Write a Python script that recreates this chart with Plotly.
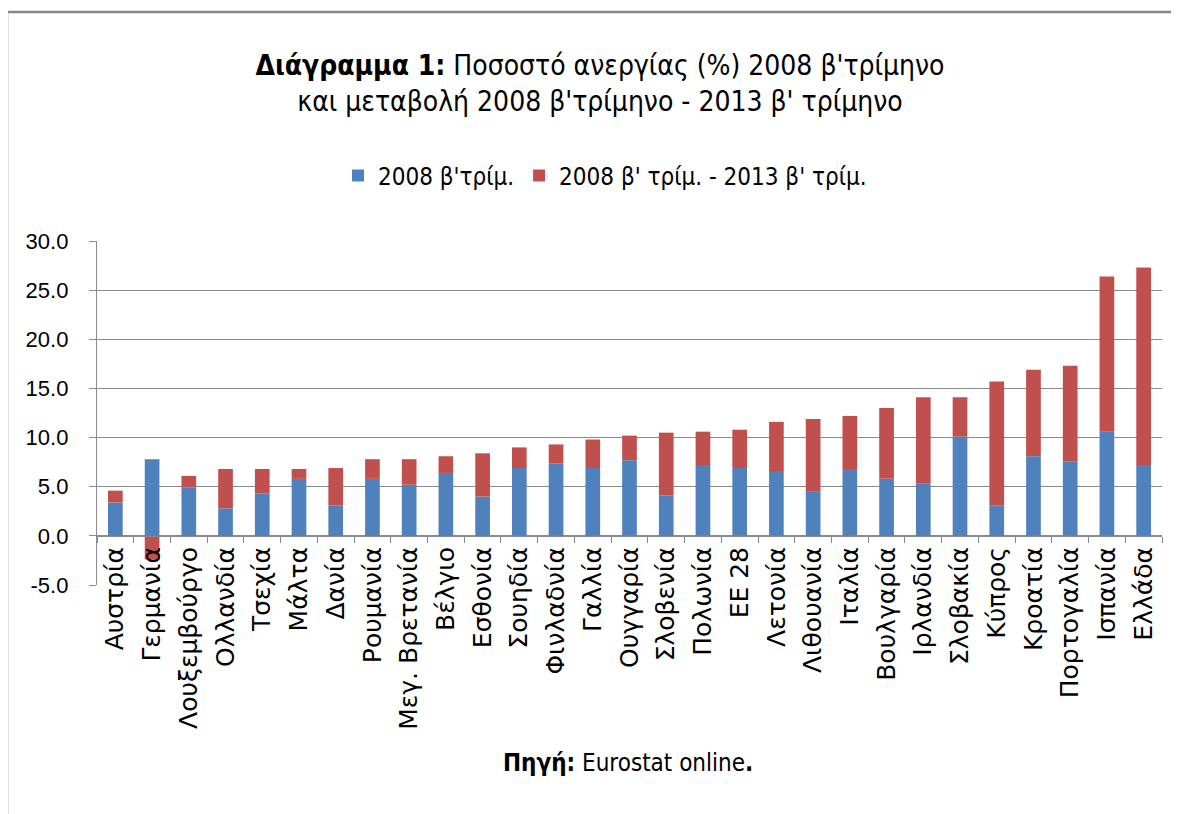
import plotly.graph_objects as go

countries = ["Αυστρία", "Γερμανία", "Λουξεμβούργο", "Ολλανδία", "Τσεχία", "Μάλτα",
             "Δανία", "Ρουμανία", "Μεγ. Βρετανία", "Βέλγιο", "Εσθονία", "Σουηδία",
             "Φινλαδνία", "Γαλλία", "Ουγγαρία", "Σλοβενία", "Πολωνία", "ΕΕ 28",
             "Λετονία", "Λιθουανία", "Ιταλία", "Βουλγαρία", "Ιρλανδία", "Σλοβακία",
             "Κύπρος", "Κροατία", "Πορτογαλία", "Ισπανία", "Ελλάδα"]

rate_2008q2 = [3.4, 7.8, 4.9, 2.8, 4.3, 5.8, 3.1, 5.8, 5.2, 6.4, 4.0, 6.9, 7.4, 6.9,
               7.7, 4.1, 7.2, 6.9, 6.6, 4.5, 6.8, 5.8, 5.3, 10.1, 3.1, 8.1, 7.6, 10.6, 7.2]

change_2008_2013 = [1.2, -2.4, 1.2, 4.0, 2.5, 1.0, 3.8, 2.0, 2.6, 1.7, 4.4, 2.1, 1.9, 2.9,
                    2.5, 6.4, 3.4, 3.9, 5.0, 7.4, 5.4, 7.2, 8.8, 4.0, 12.6, 8.8, 9.7, 15.8, 20.1]

series_names = ["2008 β'τρίμ.", "2008 β' τρίμ. - 2013 β' τρίμ."]
y_ticks = [-5, 0, 5, 10, 15, 20, 25, 30]
y_ticktext = [f"{v:.1f}" for v in y_ticks]

BLUE = "#4F81BD"
RED = "#C0504D"
GRID = "#8A8A8A"
NARROW = "Liberation Sans Narrow, Arial Narrow, DejaVu Sans Condensed, sans-serif"

fig = go.Figure()
fig.add_trace(go.Bar(x=countries, y=rate_2008q2, name=series_names[0],
                     marker=dict(color=BLUE, line=dict(width=0))))
fig.add_trace(go.Bar(x=countries, y=change_2008_2013, name=series_names[1],
                     marker=dict(color=RED, line=dict(width=0))))

# page has an 8px body margin: work in page pixels, convert to figure pixels
OFF = 8
W, H = 1179 - OFF, 814 - OFF
PL, PR, PT, PB = 97, 1162, 241, 585          # plot area in page pixels
L, R, T, B = PL - OFF, W - (PR - OFF), PT - OFF, H - (PB - OFF)
pw, ph = W - L - R, H - T - B

def px_x(x):
    return (x - OFF - L) / pw

def px_y(y):
    return (H - B - (y - OFF)) / ph

ymin, ymax = y_ticks[0], y_ticks[-1]

fig.update_layout(
    width=W, height=H,
    margin=dict(l=L, r=R, t=T, b=B, autoexpand=False),
    paper_bgcolor="white", plot_bgcolor="white",
    barmode="relative", bargap=0.6,
    title=dict(
        text="<b>Διάγραμμα 1:</b> Ποσοστό ανεργίας (%) 2008 β'τρίμηνο<br>και μεταβολή 2008 β'τρίμηνο - 2013 β' τρίμηνο",
        font=dict(family=NARROW, size=28, color="#000000"),
        xref="container", x=(600 - OFF) / W, xanchor="center",
        yref="container", y=1 - (75 - OFF) / H, yanchor="middle",
    ),
    legend=dict(
        orientation="h", x=px_x(605), xanchor="center", y=px_y(176), yanchor="middle",
        font=dict(family=NARROW, size=24, color="#000000"),
        traceorder="normal", itemwidth=30, itemsizing="constant",
    ),
    font=dict(family="Liberation Sans, Arial, sans-serif", color="#000000"),
    xaxis=dict(
        type="category", anchor="free", position=(0 - ymin) / (ymax - ymin),
        showline=True, linecolor=GRID, linewidth=1.3,
        ticks="outside", tickson="boundaries", ticklen=6, tickcolor=GRID, tickwidth=1.3,
        tickangle=-90, showgrid=False,
        tickfont=dict(family="DejaVu Sans, sans-serif", size=25, color="#000000"),
        ticklabelstandoff=0,
    ),
    yaxis=dict(
        range=[ymin, ymax], tickvals=y_ticks, ticktext=y_ticktext,
        showline=True, linecolor=GRID, linewidth=1.3,
        ticks="outside", ticklen=7, tickcolor=GRID, tickwidth=1.3,
        showgrid=True, gridcolor=GRID, gridwidth=1.3, zeroline=False,
        tickfont=dict(family="Liberation Sans, Arial, sans-serif", size=22, color="#000000"),
        ticklabelstandoff=16,
    ),
    shapes=[dict(type="rect", xref="paper", yref="paper",
                 x0=px_x(7), x1=px_x(1220), y0=px_y(850), y1=px_y(12),
                 line=dict(color="#868686", width=2.5), fillcolor="rgba(0,0,0,0)", layer="below")],
    annotations=[dict(text="<b>Πηγή:</b> Eurostat online<b>.</b>", xref="paper", yref="paper",
                      x=px_x(628), y=px_y(763), xanchor="center", yanchor="middle",
                      showarrow=False, font=dict(family=NARROW, size=24, color="#000000"))],
)

fig.write_html("out.html")
